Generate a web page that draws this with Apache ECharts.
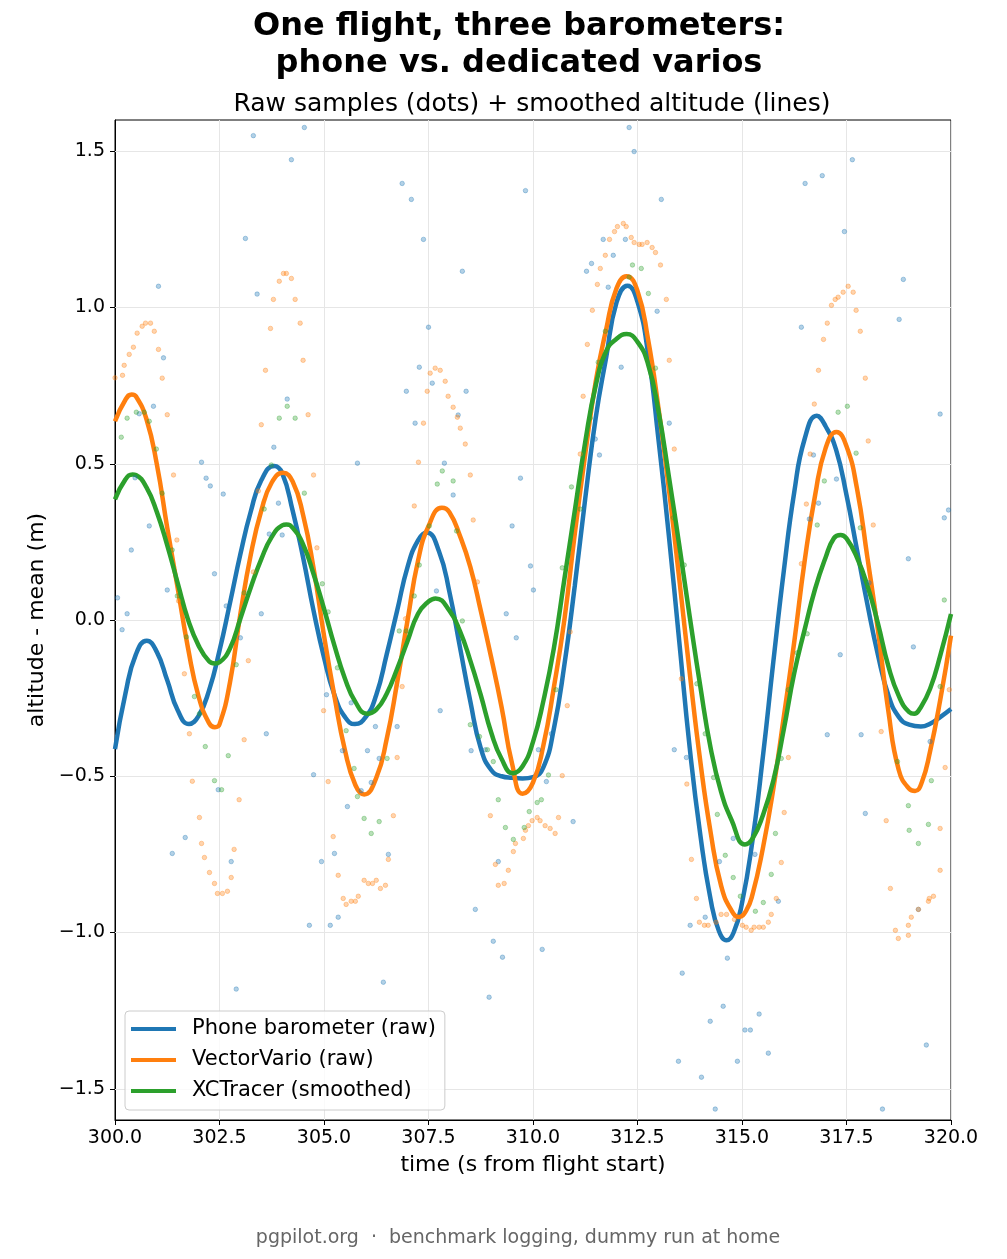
<!DOCTYPE html>
<html>
<head>
<meta charset="utf-8">
<script src="https://cdn.jsdelivr.net/npm/echarts@6/dist/echarts.min.js"></script>
<style>
  html, body { margin: 0; padding: 0; background: #fff; }
  #chart { width: 1007px; height: 1259px; }
</style>
</head>
<body>
<div id="chart"></div>
<script>
  const FONT = 'DejaVu Sans'

  const seriesNames = ['Phone barometer (raw)', 'VectorVario (raw)', 'XCTracer (smoothed)']
  const xTicks = [300, 302.5, 305, 307.5, 310, 312.5, 315, 317.5, 320]
  const yTicks = [-1.5, -1.0, -0.5, 0.0, 0.5, 1.0, 1.5]

  // smoothed altitude, [time s, altitude - mean m]
  const phoneLine = [
    [300.0, -0.413], [300.25, -0.235], [300.5, -0.11], [300.76, -0.066], [301.0, -0.102], [301.25, -0.193],
    [301.5, -0.289], [301.77, -0.333], [302.0, -0.307], [302.25, -0.225], [302.5, -0.098], [302.75, 0.054],
    [303.0, 0.211], [303.25, 0.348], [303.5, 0.447], [303.81, 0.493], [304.0, 0.47], [304.25, 0.35],
    [304.5, 0.2], [304.75, 0.03], [305.0, -0.12], [305.25, -0.24], [305.5, -0.31], [305.74, -0.333],
    [306.0, -0.31], [306.25, -0.24], [306.5, -0.11], [306.75, 0.03], [307.0, 0.17], [307.25, 0.255],
    [307.46, 0.28], [307.75, 0.22], [308.0, 0.09], [308.25, -0.085], [308.5, -0.26], [308.75, -0.41],
    [309.0, -0.48], [309.25, -0.5], [309.5, -0.505], [309.75, -0.507], [310.0, -0.503], [310.25, -0.471],
    [310.5, -0.347], [310.75, -0.144], [311.0, 0.11], [311.25, 0.389], [311.5, 0.647], [311.75, 0.84],
    [312.0, 1.017], [312.26, 1.07], [312.5, 1.018], [312.75, 0.856], [313.0, 0.58], [313.25, 0.27],
    [313.5, -0.07], [313.75, -0.41], [314.0, -0.685], [314.25, -0.895], [314.45, -0.996], [314.63, -1.025],
    [314.8, -1.0], [315.0, -0.906], [315.25, -0.706], [315.5, -0.437], [315.75, -0.133], [316.0, 0.157],
    [316.25, 0.409], [316.5, 0.58], [316.79, 0.654], [317.0, 0.62], [317.25, 0.545], [317.5, 0.4],
    [317.75, 0.225], [318.0, 0.05], [318.25, -0.11], [318.5, -0.24], [318.75, -0.31], [319.0, -0.335],
    [319.28, -0.341], [319.5, -0.332], [319.75, -0.31], [320.0, -0.285]
  ]
  const varioLine = [
    [300.0, 0.636], [300.25, 0.705], [300.4, 0.722], [300.5, 0.716], [300.75, 0.644], [301.0, 0.499],
    [301.25, 0.295], [301.5, 0.102], [301.75, -0.092], [302.0, -0.245], [302.25, -0.33], [302.39, -0.343],
    [302.5, -0.334], [302.75, -0.2], [303.0, 0.02], [303.25, 0.21], [303.5, 0.35], [303.75, 0.44],
    [304.02, 0.471], [304.25, 0.443], [304.5, 0.336], [304.75, 0.166], [305.0, -0.05], [305.25, -0.244],
    [305.5, -0.416], [305.75, -0.528], [305.96, -0.558], [306.25, -0.505], [306.5, -0.381], [306.75, -0.2],
    [307.0, 0.0], [307.25, 0.19], [307.5, 0.3], [307.82, 0.359], [308.0, 0.345], [308.25, 0.27],
    [308.5, 0.17], [308.75, 0.03], [309.0, -0.12], [309.25, -0.28], [309.5, -0.46], [309.75, -0.556],
    [310.0, -0.52], [310.25, -0.4], [310.5, -0.215], [310.75, 0.0], [311.0, 0.276], [311.25, 0.531],
    [311.5, 0.763], [311.75, 0.93], [312.0, 1.062], [312.24, 1.1], [312.5, 1.053], [312.75, 0.9],
    [313.0, 0.68], [313.25, 0.42], [313.5, 0.13], [313.75, -0.17], [314.0, -0.45], [314.25, -0.68],
    [314.5, -0.85], [314.75, -0.93], [314.93, -0.95], [315.1, -0.93], [315.25, -0.879], [315.5, -0.73],
    [315.75, -0.54], [316.0, -0.31], [316.25, -0.07], [316.5, 0.19], [316.75, 0.4], [317.0, 0.55],
    [317.26, 0.602], [317.5, 0.556], [317.75, 0.421], [318.0, 0.2], [318.25, -0.03], [318.5, -0.29],
    [318.75, -0.48], [319.0, -0.54], [319.14, -0.547], [319.3, -0.52], [319.5, -0.42], [319.75, -0.25],
    [320.0, -0.05]
  ]
  const tracerLine = [
    [300.0, 0.386], [300.25, 0.45], [300.42, 0.466], [300.5, 0.464], [300.75, 0.425], [301.0, 0.346],
    [301.25, 0.239], [301.5, 0.118], [301.75, 0.0], [302.0, -0.082], [302.25, -0.132], [302.39, -0.139],
    [302.5, -0.135], [302.75, -0.091], [303.0, 0.005], [303.25, 0.105], [303.5, 0.195], [303.75, 0.266],
    [304.0, 0.303], [304.1, 0.306], [304.25, 0.295], [304.5, 0.242], [304.75, 0.147], [305.0, 0.036],
    [305.25, -0.082], [305.5, -0.187], [305.75, -0.262], [306.03, -0.3], [306.25, -0.287], [306.5, -0.236],
    [306.75, -0.156], [307.0, -0.067], [307.25, 0.02], [307.5, 0.059], [307.67, 0.069], [308.0, 0.03],
    [308.25, -0.035], [308.5, -0.13], [308.75, -0.24], [309.0, -0.36], [309.25, -0.445], [309.52, -0.49],
    [309.75, -0.468], [310.0, -0.39], [310.25, -0.258], [310.5, -0.09], [310.75, 0.13], [311.0, 0.35],
    [311.25, 0.57], [311.5, 0.75], [311.75, 0.86], [312.0, 0.9], [312.24, 0.915], [312.5, 0.89],
    [312.75, 0.82], [313.0, 0.67], [313.25, 0.46], [313.5, 0.239], [313.75, 0.01], [314.0, -0.21],
    [314.25, -0.41], [314.5, -0.55], [314.75, -0.64], [315.07, -0.718], [315.25, -0.7], [315.5, -0.625],
    [315.75, -0.514], [316.0, -0.35], [316.25, -0.17], [316.5, -0.03], [316.75, 0.1], [317.0, 0.2],
    [317.2, 0.262], [317.36, 0.272], [317.5, 0.261], [317.75, 0.2], [318.0, 0.11], [318.25, -0.01],
    [318.5, -0.147], [318.75, -0.243], [319.0, -0.295], [319.12, -0.3], [319.25, -0.285], [319.5, -0.22],
    [319.75, -0.11], [320.0, 0.019]
  ]

  // raw samples, [time s, altitude - mean m]
  const phoneDots = [
    [303.31, 1.55], [304.53, 1.576], [304.22, 1.473], [303.12, 1.221], [303.4, 1.043], [301.04, 1.068],
    [301.16, 0.839], [300.92, 0.684], [300.58, 0.66], [304.12, 0.707], [303.8, 0.553],
    [306.87, 1.397], [307.09, 1.346], [307.38, 1.218], [308.31, 1.116], [309.82, 1.374], [307.5, 0.937],
    [307.28, 0.809], [307.59, 0.758], [306.97, 0.732], [308.4, 0.732], [308.21, 0.656], [307.18, 0.63],
    [312.3, 1.576], [312.42, 1.499], [313.07, 1.346], [311.68, 1.218], [312.21, 1.218], [311.4, 1.141],
    [311.28, 1.116], [311.92, 1.167], [311.8, 1.065], [312.97, 0.988], [312.11, 0.809], [313.26, 0.63],
    [311.49, 0.579],
    [317.64, 1.473], [316.92, 1.422], [316.51, 1.397], [317.45, 1.243], [318.86, 1.09], [318.76, 0.962],
    [316.42, 0.937], [319.74, 0.659],
    [300.48, 0.455], [302.07, 0.505], [302.18, 0.454], [302.28, 0.429], [302.59, 0.403], [300.82, 0.301],
    [300.39, 0.224], [303.91, 0.374], [304.0, 0.272], [303.69, 0.275], [302.38, 0.148], [301.25, 0.096],
    [300.06, 0.071], [300.29, 0.02], [300.17, -0.031], [302.66, 0.045], [303.5, 0.02], [303.0, -0.057],
    [303.62, -0.364], [304.75, -0.495],
    [305.8, 0.502], [307.88, 0.502], [308.09, 0.4], [309.7, 0.454], [309.5, 0.301], [309.94, 0.173],
    [310.01, 0.096], [309.36, 0.02], [309.6, -0.057], [307.69, 0.093], [307.78, -0.29], [305.06, -0.239],
    [305.65, -0.265], [306.23, -0.341], [306.75, -0.341], [306.04, -0.418], [306.32, -0.443],
    [305.44, -0.418], [306.13, -0.52], [308.52, -0.418], [308.86, -0.415],
    [311.59, 0.528], [310.44, -0.364], [310.13, -0.415], [310.32, -0.517], [313.38, -0.415], [313.67, -0.44],
    [316.71, 0.528], [317.26, 0.451], [316.83, 0.374], [316.61, 0.323], [318.04, 0.119], [318.98, 0.196],
    [319.84, 0.327], [319.94, 0.352], [319.1, -0.086], [317.35, -0.111], [317.04, -0.367], [317.85, -0.367],
    [319.5, -0.389],
    [302.47, -0.543], [301.68, -0.696], [301.37, -0.747], [302.78, -0.773], [304.94, -0.773],
    [304.65, -0.977], [302.9, -1.181],
    [305.56, -0.597], [305.89, -0.546], [305.25, -0.747], [306.54, -0.75], [305.34, -0.951], [305.15, -0.977],
    [306.42, -1.159], [308.62, -0.926], [309.05, -1.028], [309.27, -1.079], [308.95, -1.207], [309.17, -0.773],
    [310.96, -0.645], [310.22, -1.054], [313.76, -0.977], [314.12, -0.951], [314.46, -0.773], [314.79, -0.699],
    [314.65, -1.082], [313.57, -1.13], [314.55, -1.236], [314.24, -1.284], [313.48, -1.412], [314.03, -1.463],
    [314.36, -1.565], [314.89, -1.412], [315.07, -1.312],
    [315.31, -0.75], [315.87, -0.9], [315.41, -1.261], [315.2, -1.312], [315.63, -1.386], [317.95, -0.619],
    [319.41, -1.36], [318.36, -1.565], [319.22, -0.926]
  ]
  const varioDots = [
    [300.0, 0.775], [300.18, 0.783], [300.22, 0.815], [300.34, 0.85], [300.44, 0.873], [300.53, 0.918],
    [300.65, 0.94], [300.73, 0.95], [300.85, 0.95], [300.94, 0.924], [301.04, 0.866], [301.13, 0.774],
    [301.25, 0.657],
    [304.03, 1.109], [304.1, 1.109], [303.93, 1.084], [304.22, 1.093], [303.79, 1.026], [304.31, 1.026],
    [303.72, 0.933], [304.43, 0.95], [303.6, 0.799], [304.5, 0.831], [303.5, 0.625], [304.62, 0.657],
    [307.66, 0.806], [307.78, 0.799], [307.54, 0.79], [307.9, 0.764], [307.47, 0.732], [307.97, 0.716],
    [308.09, 0.681], [308.19, 0.649], [307.38, 0.63], [308.26, 0.614], [308.38, 0.563],
    [312.16, 1.269], [312.23, 1.259], [312.02, 1.259], [311.95, 1.243], [311.83, 1.218], [312.35, 1.224],
    [312.42, 1.208], [312.54, 1.202], [312.61, 1.202], [312.73, 1.208], [312.85, 1.192], [312.93, 1.176],
    [311.73, 1.167], [311.61, 1.125], [313.05, 1.136], [311.54, 1.074], [313.19, 1.026], [311.42, 0.991],
    [311.3, 0.882], [313.26, 0.831], [311.2, 0.716], [313.38, 0.547],
    [317.54, 1.068], [317.42, 1.049], [317.66, 1.049], [317.3, 1.033], [317.23, 1.026], [317.14, 1.007],
    [317.73, 0.991], [317.04, 0.95], [317.83, 0.924], [316.95, 0.898], [316.83, 0.799], [317.95, 0.774],
    [316.73, 0.691], [318.02, 0.573],
    [301.4, 0.464], [301.48, 0.256], [301.52, 0.061], [301.66, -0.172], [301.78, -0.364], [301.85, -0.516],
    [303.43, 0.413], [303.31, 0.154], [303.19, -0.13], [303.09, -0.383], [304.75, 0.464], [304.83, 0.231],
    [304.99, -0.29],
    [307.26, 0.505], [308.5, 0.464], [307.16, 0.365], [308.57, 0.32], [308.67, 0.122], [306.95, 0.004],
    [306.87, -0.213], [306.75, -0.44], [305.1, -0.517],
    [311.13, 0.531], [310.89, -0.038], [310.82, -0.274], [310.7, -0.498], [313.55, -0.188], [313.68, -0.525],
    [316.63, 0.531], [316.54, 0.371], [318.14, 0.304], [316.42, 0.18], [318.33, -0.357], [316.11, -0.44],
    [319.96, -0.223], [319.86, -0.472],
    [302.97, -0.575], [302.02, -0.632], [302.07, -0.715], [302.85, -0.734], [302.14, -0.76], [302.26, -0.808],
    [302.78, -0.824], [302.38, -0.843], [302.45, -0.875], [302.57, -0.875], [302.69, -0.868],
    [305.22, -0.693], [305.34, -0.817], [305.46, -0.891], [305.53, -0.91], [305.65, -0.9], [305.75, -0.9],
    [305.82, -0.884], [305.96, -0.833], [306.06, -0.843], [306.16, -0.843], [306.25, -0.833], [306.35, -0.859],
    [306.47, -0.849], [306.54, -0.766], [306.66, -0.626],
    [308.98, -0.626], [309.1, -0.782], [309.17, -0.849], [309.31, -0.843], [309.41, -0.801], [309.53, -0.741],
    [309.58, -0.715], [309.77, -0.699], [309.82, -0.673], [309.89, -0.658], [309.98, -0.642],
    [310.1, -0.632], [310.17, -0.642], [310.29, -0.658], [310.41, -0.667], [310.53, -0.683], [310.61, -0.632],
    [313.79, -0.766], [313.91, -0.891], [313.98, -0.967], [314.1, -0.977], [314.19, -0.977], [314.38, -0.967],
    [314.5, -0.942], [314.63, -0.942], [314.82, -0.958], [315.01, -0.977],
    [316.01, -0.616], [315.94, -0.776], [315.82, -0.891], [315.7, -0.942], [315.63, -0.967], [315.51, -0.983],
    [315.41, -0.983], [315.29, -0.983], [315.22, -0.993], [315.1, -0.983],
    [318.45, -0.642], [319.74, -0.667], [319.74, -0.801], [318.55, -0.859], [319.58, -0.884], [319.48, -0.891],
    [319.46, -0.9], [319.22, -0.926], [319.05, -0.951], [318.98, -0.977], [318.67, -0.993], [318.74, -1.019],
    [318.98, -1.009]
  ]
  const tracerDots = [
    [300.15, 0.585], [300.29, 0.646], [300.51, 0.665], [300.7, 0.665], [300.82, 0.636], [300.99, 0.547],
    [303.93, 0.646], [304.12, 0.684], [304.31, 0.646],
    [312.38, 1.136], [312.59, 1.125], [312.3, 1.097], [312.76, 1.045], [311.73, 0.924], [311.56, 0.825],
    [312.93, 0.806], [311.37, 0.646],
    [317.3, 0.665], [317.52, 0.684],
    [301.13, 0.406], [301.37, 0.224], [301.49, 0.077], [301.71, -0.054], [301.9, -0.245], [302.02, -0.3],
    [302.16, -0.405], [302.71, -0.434], [302.38, -0.514], [302.9, -0.143], [303.09, 0.087], [303.57, 0.355],
    [303.74, 0.496], [304.53, 0.406], [304.96, 0.116],
    [307.83, 0.477], [307.71, 0.435], [308.09, 0.445], [307.52, 0.301], [308.17, 0.285], [307.28, 0.176],
    [307.16, 0.077], [305.1, 0.026], [306.8, -0.035], [306.97, -0.035], [308.31, -0.003], [305.32, -0.153],
    [305.53, -0.354], [305.72, -0.475], [306.51, -0.443], [308.5, -0.335], [308.72, -0.373], [308.91, -0.415],
    [309.05, -0.453],
    [310.92, 0.426], [311.13, 0.355], [310.7, 0.167], [310.55, -0.223], [310.37, -0.496], [313.62, 0.176],
    [313.36, 0.327], [313.92, -0.204], [314.12, -0.364], [314.32, -0.504],
    [317.73, 0.534], [316.97, 0.445], [316.8, 0.304], [317.83, 0.295], [316.56, -0.044], [316.32, -0.105],
    [316.11, -0.223], [315.94, -0.443], [319.84, 0.064], [319.74, -0.213], [318.72, -0.453], [319.53, -0.514],
    [302.55, -0.543],
    [305.8, -0.565], [305.96, -0.635], [306.32, -0.645], [306.13, -0.683], [309.17, -0.575], [309.34, -0.664],
    [309.53, -0.702], [309.79, -0.664], [309.91, -0.613],
    [310.1, -0.584], [310.2, -0.575], [314.41, -0.622], [314.6, -0.753], [314.79, -0.824], [314.96, -0.884],
    [315.8, -0.683], [315.7, -0.814], [315.51, -0.904], [315.32, -0.932], [318.98, -0.594], [319.0, -0.673],
    [319.22, -0.715], [319.46, -0.654]
  ]

  const colors = ['#1f77b4', '#ff7f0e', '#2ca02c']
  const dotColors = ['rgba(31,119,180,0.42)', 'rgba(255,127,14,0.42)', 'rgba(44,160,44,0.42)']
  const lines = [phoneLine, varioLine, tracerLine]
  const dots = [phoneDots, varioDots, tracerDots]

  function fmtTick(v) {
    const s = Math.abs(v).toFixed(1)
    return v < 0 ? '\u2212' + s : s
  }

  const series = [{
    // horizontal grid lines at the y ticks
    name: 'grid',
    type: 'line',
    data: [],
    z: 1,
    silent: true,
    markLine: {
      silent: true,
      z: 1,
      symbol: 'none',
      animation: false,
      label: { show: false },
      lineStyle: { color: '#e6e6e6', width: 1, type: 'solid' },
      data: yTicks.map(v => ({ yAxis: v }))
    }
  }]
  lines.forEach((d, i) => {
    series.push({
      name: seriesNames[i],
      type: 'line',
      data: d,
      smooth: true,
      showSymbol: false,
      z: 3,
      color: colors[i],
      lineStyle: { width: 4.5, color: colors[i] }
    })
  })
  dots.forEach((d, i) => {
    series.push({
      name: seriesNames[i] + ' samples',
      type: 'scatter',
      data: d,
      symbolSize: 4.5,
      z: 4,
      itemStyle: { color: dotColors[i], borderColor: dotColors[i], borderWidth: 1 }
    })
  })

  const chart = echarts.init(document.getElementById('chart'))
  chart.setOption({
    animation: false,
    backgroundColor: '#fff',
    title: [{
      text: 'One flight, three barometers:\nphone vs. dedicated varios',
      left: 519,
      top: 8,
      padding: 0,
      textAlign: 'center',
      textStyle: { fontFamily: FONT, fontSize: 32, fontWeight: 'bold', lineHeight: 37, color: '#000' }
    }, {
      text: 'Raw samples (dots) + smoothed altitude (lines)',
      left: 532,
      top: 91,
      padding: 0,
      textAlign: 'center',
      textStyle: { fontFamily: FONT, fontSize: 25, fontWeight: 'normal', lineHeight: 27, color: '#000' }
    }, {
      text: 'pgpilot.org  \u00b7  benchmark logging, dummy run at home',
      left: 518,
      top: 1227,
      padding: 0,
      textAlign: 'center',
      textStyle: { fontFamily: FONT, fontSize: 19, fontWeight: 'normal', lineHeight: 22, color: '#666' }
    }],
    legend: {
      data: seriesNames,
      orient: 'vertical',
      left: 125,
      top: 1011,
      icon: 'rect',
      itemWidth: 45,
      itemHeight: 4,
      itemGap: 7,
      padding: [6, 9, 7, 6],
      backgroundColor: 'rgba(255,255,255,0.8)',
      borderColor: '#cccccc',
      borderWidth: 1,
      borderRadius: 4,
      z: 10,
      textStyle: { fontFamily: FONT, fontSize: 21, color: '#000', lineHeight: 24, padding: [0, 0, 0, 11] }
    },
    grid: {
      left: 115,
      right: 56,
      top: 120,
      bottom: 139,
      show: true,
      borderColor: '#000',
      borderWidth: 1,
      backgroundColor: 'transparent'
    },
    xAxis: {
      type: 'value',
      min: 300,
      max: 320,
      interval: 2.5,
      name: 'time (s from flight start)',
      nameLocation: 'middle',
      nameGap: 34,
      nameTextStyle: { fontFamily: FONT, fontSize: 22, color: '#000' },
      axisLine: { show: true, onZero: false, lineStyle: { color: '#000', width: 1 } },
      axisTick: { show: true, length: 5, lineStyle: { color: '#000' } },
      axisLabel: { fontFamily: FONT, fontSize: 19, color: '#000', margin: 9, formatter: v => v.toFixed(1) },
      splitLine: { show: true, lineStyle: { color: '#e6e6e6', width: 1 } }
    },
    yAxis: {
      type: 'value',
      min: -1.6,
      max: 1.6,
      name: 'altitude - mean (m)',
      nameLocation: 'middle',
      nameGap: 64,
      nameTextStyle: { fontFamily: FONT, fontSize: 22, color: '#000' },
      axisLine: { show: true, onZero: false, lineStyle: { color: '#000', width: 1 } },
      axisTick: { show: true, length: 5, lineStyle: { color: '#000' }, customValues: yTicks },
      axisLabel: { fontFamily: FONT, fontSize: 19, color: '#000', margin: 10, customValues: yTicks, formatter: fmtTick },
      splitLine: { show: false }
    },
    series: series
  })
</script>
</body>
</html>
